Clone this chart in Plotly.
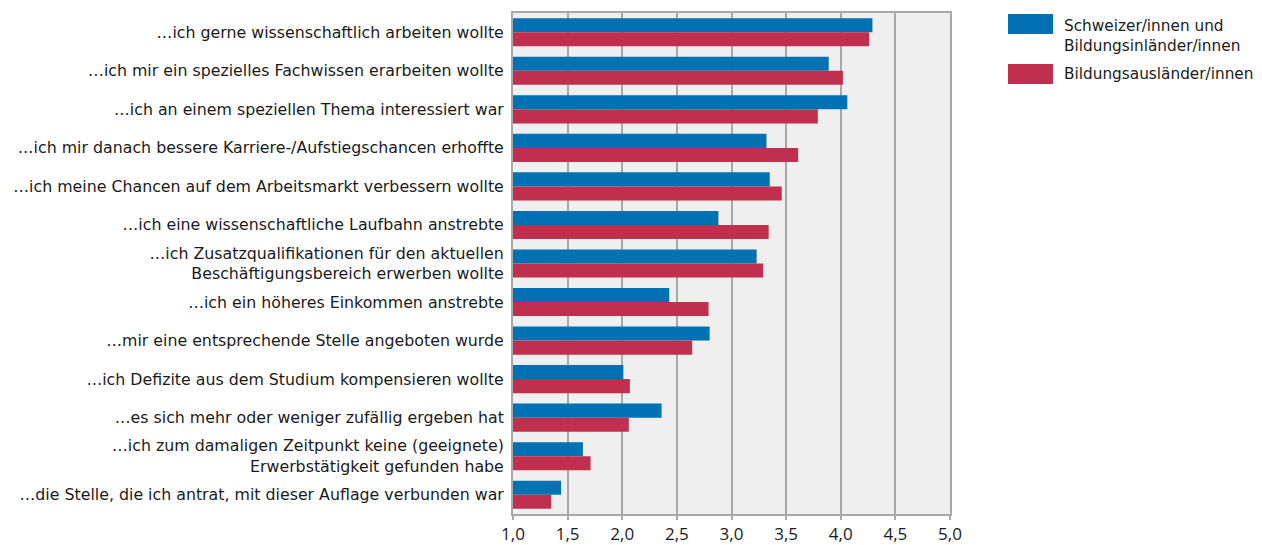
import plotly.graph_objects as go

categories = [
    "…ich gerne wissenschaftlich arbeiten wollte",
    "…ich mir ein spezielles Fachwissen erarbeiten wollte",
    "…ich an einem speziellen Thema interessiert war",
    "…ich mir danach bessere Karriere-/Aufstiegschancen erhoffte",
    "…ich meine Chancen auf dem Arbeitsmarkt verbessern wollte",
    "…ich eine wissenschaftliche Laufbahn anstrebte",
    "…ich Zusatzqualifikationen für den aktuellen<br>Beschäftigungsbereich erwerben wollte",
    "…ich ein höheres Einkommen anstrebte",
    "…mir eine entsprechende Stelle angeboten wurde",
    "…ich Defizite aus dem Studium kompensieren wollte",
    "…es sich mehr oder weniger zufällig ergeben hat",
    "…ich zum damaligen Zeitpunkt keine (geeignete)<br>Erwerbstätigkeit gefunden habe",
    "…die Stelle, die ich antrat, mit dieser Auflage verbunden war",
]
schweizer = [4.29, 3.89, 4.06, 3.32, 3.35, 2.88, 3.23, 2.43, 2.80, 2.01, 2.36, 1.64, 1.44]
auslaender = [4.26, 4.02, 3.79, 3.61, 3.46, 3.34, 3.29, 2.79, 2.64, 2.07, 2.06, 1.71, 1.35]
series_names = ["Schweizer/innen und<br>Bildungsinländer/innen", "Bildungsausländer/innen"]
x_ticks = [1.0, 1.5, 2.0, 2.5, 3.0, 3.5, 4.0, 4.5, 5.0]

BLUE = "#0071b3"
RED = "#c0304e"
LABEL_FONT = "DejaVu Sans"
TICK_FONT = "Open Sans"
TXT = "#1a1a1a"

# the page body adds an 8px offset; figure coordinates compensate for it
OFF = 8
W, H = 1262 - OFF, 545 - OFF
PL, PR, PT, PB = 513 - OFF, 950 - OFF, 13 - OFF, 514 - OFF
PW, PH = PR - PL, PB - PT

fig = go.Figure()
fig.add_trace(go.Bar(y=categories, x=[v - 1 for v in schweizer], base=1, orientation="h",
                     marker=dict(color=BLUE, line=dict(width=0)), name=series_names[0],
                     showlegend=False))
fig.add_trace(go.Bar(y=categories, x=[v - 1 for v in auslaender], base=1, orientation="h",
                     marker=dict(color=RED, line=dict(width=0)), name=series_names[1],
                     showlegend=False))

fig.update_layout(
    width=W, height=H,
    margin=dict(l=PL, r=W - PR, t=PT, b=H - PB, pad=0),
    paper_bgcolor="white",
    plot_bgcolor="#efefef",
    barmode="group",
    bargap=0.27,
    bargroupgap=0,
    separators=",.",
    font=dict(family=LABEL_FONT, size=15, color=TXT),
    xaxis=dict(range=[1, 5], tickvals=x_ticks, tickformat=".1f", automargin=False,
               showgrid=True, gridcolor="#a8a8a8", gridwidth=1.5,
               showline=True, linecolor="#a8a8a8", linewidth=2, mirror=True,
               ticks="outside", ticklen=4, tickcolor="#a8a8a8", tickwidth=1.5,
               tickfont=dict(family=TICK_FONT, size=17, color=TXT),
               zeroline=False, fixedrange=True),
    yaxis=dict(autorange="reversed", automargin=False, showline=True, linecolor="#a8a8a8",
               linewidth=2, mirror=True, ticks="", ticklabelstandoff=4,
               tickfont=dict(family=LABEL_FONT, size=15.8, color=TXT), fixedrange=True),
)

# manual legend with large swatches (page pixel coords converted to paper)
def px(x):
    return (x - OFF - PL) / PW

def py(y):
    return (PB - (y - OFF)) / PH

for color, y0, y1 in [(BLUE, 14, 34), (RED, 64, 84)]:
    fig.add_shape(type="rect", xref="paper", yref="paper",
                  x0=px(1008), x1=px(1053), y0=py(y1), y1=py(y0),
                  fillcolor=color, line=dict(width=0))
for label, yc in [(series_names[0], 36), (series_names[1], 74)]:
    fig.add_annotation(xref="paper", yref="paper", x=px(1062), y=py(yc),
                       text=label, showarrow=False, xanchor="left", yanchor="middle",
                       align="left", font=dict(family=LABEL_FONT, size=15.3, color=TXT))

fig.write_html("out.html")
